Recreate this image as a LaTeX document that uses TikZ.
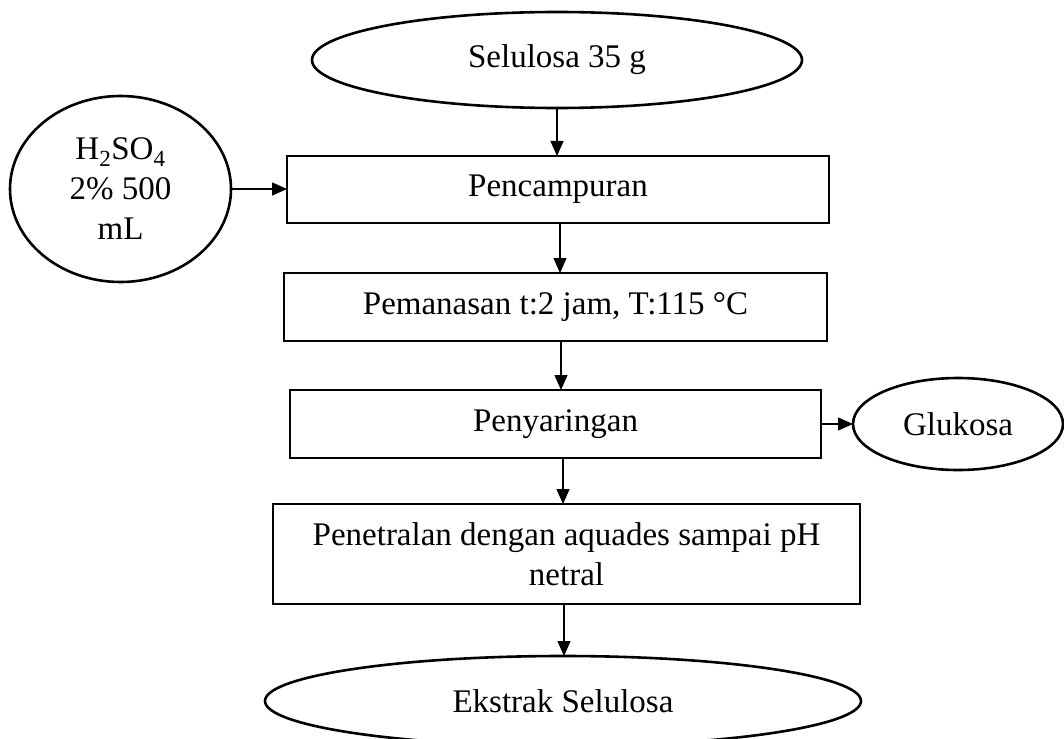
\documentclass[tikz,border=0pt]{standalone}
\usepackage{fontspec}
\setmainfont{Liberation Serif}
\usetikzlibrary{arrows.meta,shapes.geometric}
\begin{document}
\begin{tikzpicture}[x=1pt,y=-1pt,
  every node/.style={font=\fontsize{33}{40}\selectfont, inner sep=0pt, outer sep=0pt},
  procbox/.style={draw, line width=2.6pt, rectangle},
  term/.style={draw, line width=2.6pt, ellipse},
  arr/.style={line width=1.3pt, -{Triangle[length=15pt,width=13pt]}}]
\useasboundingbox (0,0) rectangle (1064,738);

% start, side input and process steps
\node[term, minimum width=490pt, minimum height=96pt] (sel) at (557,60) {Selulosa 35 g};
\node[term, minimum width=221pt, minimum height=186pt, align=center] (acid) at (120.5,189)
  {H\textsubscript{2}SO\textsubscript{4}\\2\% 500\\mL};
\node[procbox, minimum width=542pt, minimum height=67pt] (mix) at (558,189.5) {Pencampuran};
\node[procbox, minimum width=543pt, minimum height=68pt] (heat) at (555.5,307) {Pemanasan t:2 jam, T:115 °C};
\node[procbox, minimum width=531pt, minimum height=68pt] (filt) at (555.5,424) {Penyaringan};
\node[procbox, minimum width=587pt, minimum height=100pt, align=center] (neut) at (566.5,554)
  {Penetralan dengan aquades sampai pH\\netral};
\node[term, minimum width=210pt, minimum height=92pt] (glu) at (958,424) {Glukosa};
\node[term, minimum width=596pt, minimum height=90pt] (ext) at (563,701) {Ekstrak Selulosa};

% flow connectors
\draw[arr] (sel.south) -- (sel.south |- mix.north);
\draw[arr] (acid.east) -- (acid.east -| mix.west);
\draw[arr] (mix.south -| 560,0) -- (heat.north -| 560,0);
\draw[arr] (heat.south -| 561,0) -- (filt.north -| 561,0);
\draw[arr] (filt.south -| 563,0) -- (neut.north -| 563,0);
\draw[arr] (filt.east) -- (glu.west);
\draw[arr] (neut.south -| 564,0) -- (ext.north -| 564,0);
\end{tikzpicture}
\end{document}
